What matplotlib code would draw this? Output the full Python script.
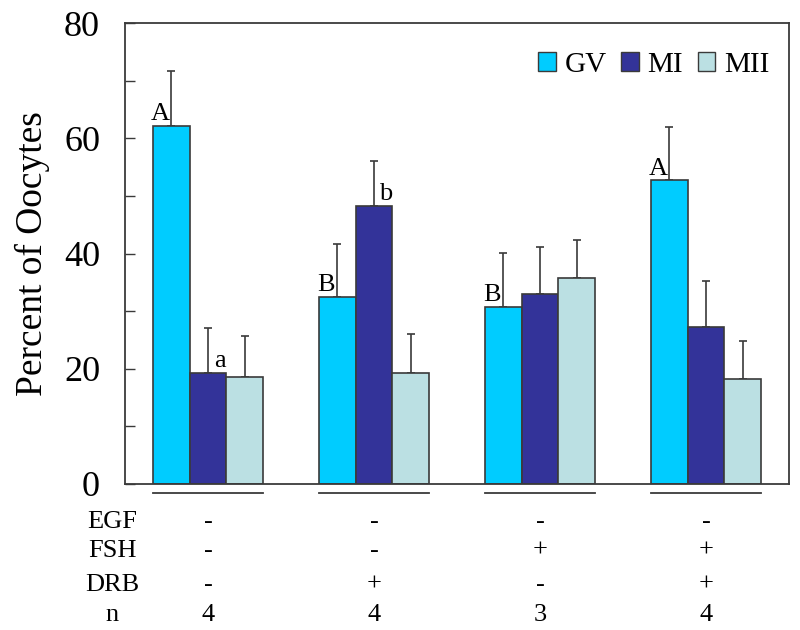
import matplotlib
matplotlib.use("Agg")
import matplotlib.pyplot as plt
import numpy as np
from matplotlib.patches import Patch

plt.rcParams['font.family'] = ['Liberation Serif', 'DejaVu Serif']

groups = ["1", "2", "3", "4"]
series = ["GV", "MI", "MII"]
gv = [62.2, 32.5, 30.8, 52.7]
mi = [19.3, 48.2, 33.0, 27.3]
mii = [18.5, 19.3, 35.7, 18.2]
gv_err = [9.5, 9.1, 9.3, 9.2]
mi_err = [7.7, 7.9, 8.2, 8.0]
mii_err = [7.2, 6.7, 6.6, 6.7]
egf = ["-", "-", "-", "-"]
fsh = ["-", "-", "+", "+"]
drb = ["-", "+", "-", "+"]
n_vals = ["4", "4", "3", "4"]
gv_letters = ["A", "B", "B", "A"]
mi_letters = ["a", "b", "", ""]

colors = ["#00CCFF", "#333399", "#BBE0E3"]
edge = "#3a3a3a"

fig = plt.figure(figsize=(8, 6.3), dpi=100)
ax = fig.add_axes([125/800, 1-484/630, 664/800, 461/630])

x = np.arange(len(groups))
w = 0.222
vals = [gv, mi, mii]
errs = [gv_err, mi_err, mii_err]
for i, (v, e, c) in enumerate(zip(vals, errs, colors)):
    xs = x + (i - 1) * w
    ax.bar(xs, v, width=w, color=c, edgecolor=edge, linewidth=1.2, zorder=2)
    ax.errorbar(xs, v, yerr=[np.zeros(len(v)), e], fmt="none", ecolor=edge,
                elinewidth=1.2, capsize=3, capthick=1.2, zorder=1)

for gi in range(len(groups)):
    if gv_letters[gi]:
        ax.text(x[gi] - w - 0.065, gv[gi] + 0.1, gv_letters[gi], ha="center",
                va="bottom", fontsize=19)
    if mi_letters[gi]:
        ax.text(x[gi] + 0.07, mi[gi] + 0.2, mi_letters[gi], ha="center",
                va="bottom", fontsize=19)

ax.set_xlim(-0.5, 3.5)
ax.set_ylim(0, 80)
ax.set_yticks(np.arange(0, 81, 10))
ax.set_yticklabels([str(t) if t % 20 == 0 else "" for t in range(0, 81, 10)])
ax.tick_params(axis="y", direction="in", length=7, width=1.0, color=edge,
               labelsize=26, pad=18)
ax.set_xticks([])
for s in ax.spines.values():
    s.set_color(edge)
    s.set_linewidth(1.3)

ax.set_ylabel("Percent of Oocytes", fontsize=27, labelpad=10)

trans = ax.get_xaxis_transform()
for gi in range(len(groups)):
    ax.plot([x[gi] - 1.5 * w, x[gi] + 1.5 * w], [-0.02, -0.02], transform=trans,
            color=edge, lw=1.3, clip_on=False)

rows = [("EGF", egf, -0.082), ("FSH", fsh, -0.145), ("DRB", drb, -0.219), ("n", n_vals, -0.284)]
for name, vals_row, yy in rows:
    fig.text(112.5/800, (630-484)/630 + yy * 461/630, name, ha="center", va="center", fontsize=19)
    for gi in range(len(groups)):
        ax.text(x[gi], yy, vals_row[gi], transform=trans, ha="center", va="center",
                fontsize=19, clip_on=False)

handles = [Patch(facecolor=c, edgecolor=edge, linewidth=1.0) for c in colors]
leg = ax.legend(handles, series, loc="upper right", ncol=3, frameon=False,
                fontsize=21, handlelength=0.6, handleheight=0.6, handletextpad=0.3,
                columnspacing=0.5, bbox_to_anchor=(1.01, 0.995))

fig.savefig("out.png", dpi=100)
